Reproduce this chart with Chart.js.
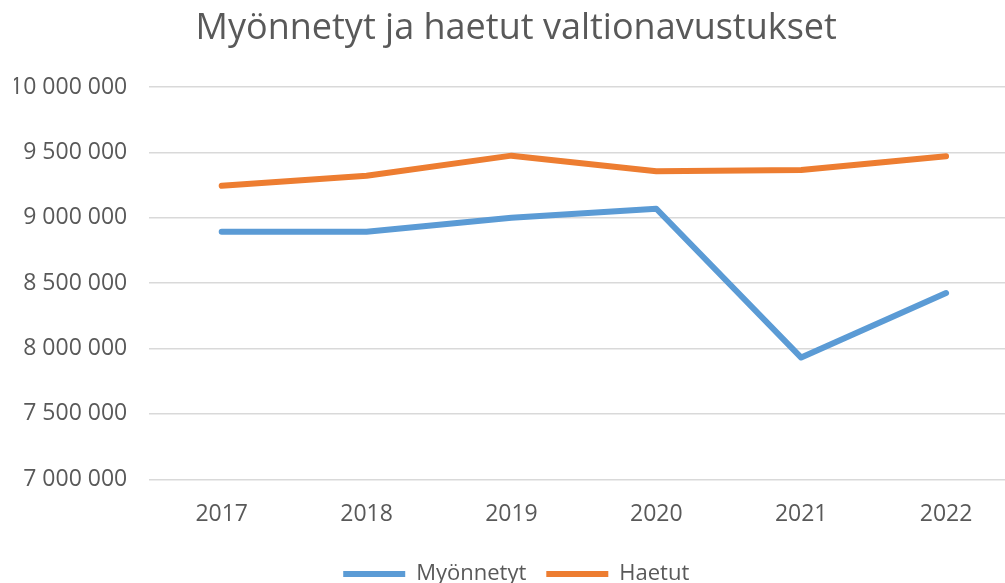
<!DOCTYPE html>
<html>
<head>
<meta charset="utf-8">
<script src="https://cdn.jsdelivr.net/npm/chart.js@4/dist/chart.umd.min.js"></script>
<style>
  html, body { margin: 0; padding: 0; background: #fff; }
  #wrap { width: 1005px; height: 583px; overflow: hidden; position: relative; }
  #box { width: 1036px; height: 595px; position: absolute; left: 0; top: 0; }
</style>
</head>
<body>
<div id="wrap"><div id="box"><canvas id="c"></canvas></div></div>
<script>
const categories = ['2017', '2018', '2019', '2020', '2021', '2022'];
const myonnetyt = [8893000, 8893000, 9000000, 9069000, 7931000, 8424000];
const haetut = [9245000, 9322000, 9475000, 9355000, 9365000, 9470000];
const seriesNames = ['Myönnetyt', 'Haetut'];
const titleText = 'Myönnetyt ja haetut valtionavustukset';
const yMin = 7000000, yMax = 10000000, yStep = 500000;

const FONT = "'Open Sans', 'Noto Sans', sans-serif";
const TXT = '#595959';

function fmt(v) {
  return String(Math.round(v)).replace(/\B(?=(\d{3})+(?!\d))/g, ' ');
}

new Chart(document.getElementById('c'), {
  type: 'line',
  data: {
    labels: categories,
    datasets: [
      { label: seriesNames[0], data: myonnetyt, borderColor: '#5B9BD5', backgroundColor: '#5B9BD5' },
      { label: seriesNames[1], data: haetut, borderColor: '#ED7D31', backgroundColor: '#ED7D31' }
    ]
  },
  options: {
    responsive: true,
    maintainAspectRatio: false,
    animation: false,
    layout: { padding: { left: 14, right: 17.5, top: 0, bottom: 0 } },
    elements: {
      line: { borderWidth: 6, tension: 0, borderCapStyle: 'round', borderJoinStyle: 'round', fill: false },
      point: { radius: 0, hoverRadius: 0 }
    },
    plugins: {
      title: {
        display: true,
        text: titleText,
        color: TXT,
        font: { family: FONT, size: 36, weight: 'normal', lineHeight: 1.2 },
        padding: { top: 7.5, bottom: 36.3 }
      },
      legend: {
        position: 'bottom',
        labels: {
          color: TXT,
          font: { family: FONT, size: 22 },
          boxWidth: 62,
          boxHeight: 6,
          padding: 20,
          generateLabels: chart => Chart.defaults.plugins.legend.labels.generateLabels(chart).map(l => Object.assign(l, { lineWidth: 0, strokeStyle: 'rgba(0,0,0,0)' }))
        }
      },
      tooltip: { enabled: false }
    },
    scales: {
      x: {
        offset: true,
        grid: { display: false, drawTicks: false, offset: true },
        border: { display: false },
        ticks: { color: TXT, font: { family: FONT, size: 23 }, padding: 21, maxRotation: 0 },
        afterFit: s => { s.height = 63.7; }
      },
      y: {
        min: yMin, max: yMax,
        grid: { color: '#D9D9D9', lineWidth: 1.5, drawTicks: false },
        border: { display: false },
        ticks: { stepSize: yStep, color: TXT, font: { family: FONT, size: 23 }, padding: 22, callback: v => fmt(v) },
        afterFit: s => { s.width = 135.25; }
      }
    }
  }
});
</script>
</body>
</html>
